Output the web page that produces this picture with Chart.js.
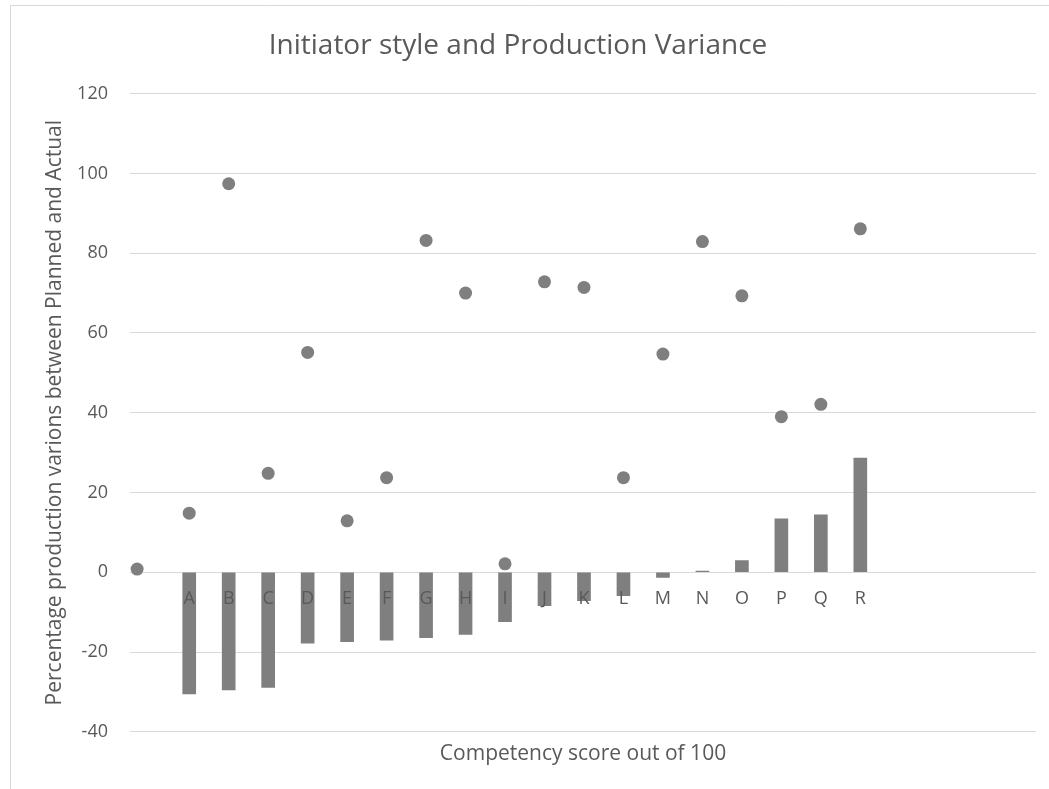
<!DOCTYPE html>
<html>
<head>
<meta charset="utf-8">
<title>Initiator style and Production Variance</title>
<script src="https://cdn.jsdelivr.net/npm/chart.js@4/dist/chart.umd.min.js"></script>
<style>
  html, body { margin: 0; padding: 0; background: #ffffff; }
  #wrap { position: relative; width: 1049px; height: 789px; }
</style>
</head>
<body>
<div id="wrap"><canvas id="chart" width="1049" height="789"></canvas></div>
<script>
// Category letters along the zero line and their slot positions
const categories = ['A','B','C','D','E','F','G','H','I','J','K','L','M','N','O','P','Q','R'];
const categoryPositions = [1,2,3,4,5,6,7,8,9,10,11,12,13,14,15,16,17,18];

// Column series: production variance (%)
const varianceValues = [-30.5,-29.5,-28.9,-17.8,-17.4,-17.0,-16.4,-15.6,-12.4,-8.4,-7.1,-5.9,-1.3,0.3,2.9,13.4,14.4,28.6];

// Marker series: competency score points
const scoreX = [-0.32,1,2,3,4,5,6,7,8,9,10,11,12,13,14,15,16,17,18];
const scoreY = [0.8,14.8,97.4,24.8,55.1,12.9,23.7,83.2,70.0,2.1,72.8,71.4,23.7,54.7,82.9,69.3,39.0,42.1,86.1];

// Value axis ticks
const yMin = -40, yMax = 120, yStep = 20;

const FONT = "'Open Sans', 'DejaVu Sans', sans-serif";
const TEXT = '#595959';
const GRID = '#d9d9d9';
const MARK = '#7f7f7f';

// Thin frame around the chart object
const framePlugin = {
  id: 'frame',
  beforeDraw(chart) {
    const ctx = chart.ctx;
    ctx.save();
    ctx.fillStyle = '#ffffff';
    ctx.fillRect(0, 0, chart.width, chart.height);
    ctx.strokeStyle = GRID;
    ctx.lineWidth = 1;
    ctx.beginPath();
    ctx.moveTo(10.5, chart.height);
    ctx.lineTo(10.5, 5.5);
    ctx.lineTo(chart.width, 5.5);
    ctx.stroke();
    ctx.restore();
  }
};

new Chart(document.getElementById('chart'), {
  type: 'bar',
  data: {
    datasets: [
      {
        type: 'bar',
        label: 'Variance',
        data: categoryPositions.map((x, i) => ({ x: x, y: varianceValues[i] })),
        backgroundColor: MARK,
        borderWidth: 0,
        barThickness: 13,
        order: 2
      },
      {
        type: 'scatter',
        label: 'Score',
        data: scoreX.map((x, i) => ({ x: x, y: scoreY[i] })),
        backgroundColor: MARK,
        borderColor: MARK,
        borderWidth: 0,
        pointRadius: 6.5,
        pointHoverRadius: 6.5,
        order: 1
      }
    ]
  },
  options: {
    responsive: false,
    animation: false,
    devicePixelRatio: 1,
    layout: { padding: { left: 0, right: 13, top: 0, bottom: 0 } },
    plugins: {
      legend: { display: false },
      tooltip: { enabled: false },
      title: {
        display: true,
        text: 'Initiator style and Production Variance',
        color: TEXT,
        font: { family: FONT, size: 28, weight: 'normal' },
        padding: { top: 29, bottom: 31 }
      },
      subtitle: {
        display: true,
        position: 'bottom',
        fullSize: false,
        text: 'Competency score out of 100',
        color: TEXT,
        font: { family: FONT, size: 21, weight: 'normal' },
        padding: { top: 10, bottom: 22 }
      }
    },
    scales: {
      x: {
        type: 'linear',
        position: { y: 0 },
        min: -0.5,
        max: 22.45,
        offset: false,
        grid: { display: false },
        border: { display: false },
        afterBuildTicks(scale) {
          scale.ticks = categoryPositions.map(v => ({ value: v }));
        },
        ticks: {
          z: 1,
          autoSkip: false,
          maxRotation: 0,
          padding: 8,
          color: TEXT,
          font: { family: FONT, size: 18 },
          callback: (v) => categories[categoryPositions.indexOf(v)] || ''
        }
      },
      y: {
        type: 'linear',
        position: 'left',
        min: yMin,
        max: yMax,
        afterFit(scale) { scale.width = 130; },
        grid: { color: GRID, lineWidth: 1, drawTicks: false },
        border: { display: false },
        ticks: {
          stepSize: yStep,
          padding: 22,
          color: TEXT,
          font: { family: FONT, size: 18 }
        },
        title: {
          display: true,
          text: 'Percentage production varions between Planned and Actual',
          color: TEXT,
          font: { family: FONT, size: 21 },
          padding: { top: 42, bottom: 0 }
        }
      }
    }
  },
  plugins: [framePlugin]
});
</script>
</body>
</html>
